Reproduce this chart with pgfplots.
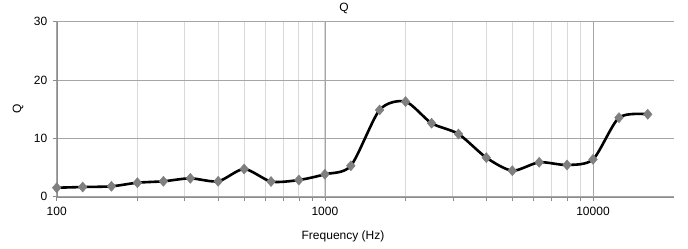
\documentclass[border=0pt]{standalone}
\usepackage{pgfplots}
\pgfplotsset{compat=1.18}
\usepackage{fontspec}
\setmainfont{Liberation Sans}
\definecolor{majgrid}{HTML}{A6A6A6}
\definecolor{mingrid}{HTML}{D9D9D9}
\definecolor{axcol}{HTML}{8C8C8C}
\definecolor{mk}{HTML}{7F7F7F}
\begin{document}
\begin{tikzpicture}[x=1bp,y=1bp,font=\fontsize{12bp}{14bp}\selectfont]
\useasboundingbox (-56.7,-51.3) rectangle (631.3,175+21.7);
\begin{axis}[
  at={(0,0)}, anchor=south west,
  scale only axis, width=617bp, height=175bp,
  xmode=log, xmin=100, xmax=20000,
  ymin=0, ymax=30,
  xtick={100,1000,10000}, xticklabels={100,1000,10000},
  ytick={0,10,20,30},
  axis x line*=bottom, axis y line*=left,
  x axis line style={-, draw=axcol}, y axis line style={-, draw=axcol},
  xmajorgrids, xminorgrids, ymajorgrids,
  major grid style={draw=majgrid, line width=0.6bp},
  minor grid style={draw=mingrid, line width=0.9bp},
  tick align=outside,
  major tick length=4bp, minor tick length=4bp,
  tick style={draw=axcol, line width=0.6bp},
  every tick label/.append style={font=\fontsize{12bp}{14bp}\selectfont},
  /pgf/number format/assume math mode=true,
  yticklabel style={xshift=-2bp},
  xticklabel style={yshift=-3bp},
  clip=false,
]
\addplot[black, line width=2.6bp, smooth, tension=0.45,
  mark=diamond*, mark size=5bp,
  mark options={fill=mk, draw=mk, line width=0.5bp, xscale=1.15}]
  coordinates {
  (100,1.54) (125,1.66) (160,1.78) (200,2.40) (250,2.64) (315,3.15)
  (400,2.64) (500,4.75) (630,2.60) (800,2.86) (1000,3.84) (1250,5.30)
  (1600,14.87) (2000,16.30) (2500,12.60) (3150,10.75) (4000,6.70)
  (5000,4.46) (6300,5.90) (8000,5.44) (10000,6.40) (12500,13.55) (16000,14.13)
  };
\end{axis}
\node at (287.3,188.7) {Q};
\node[rotate=90] at (-38.7,87.7) {Q};
\node at (286.3,-39.3) {Frequency (Hz)};
\end{tikzpicture}
\end{document}
